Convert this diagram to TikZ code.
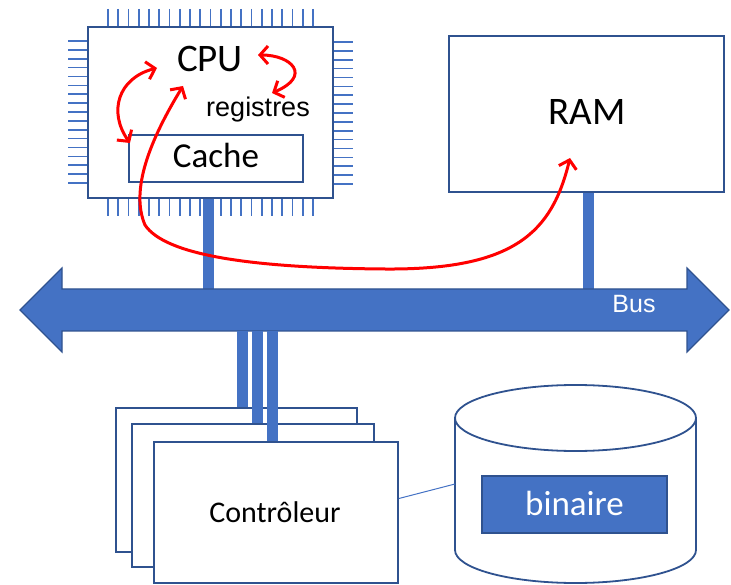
\documentclass[tikz,border=0pt]{standalone}
\usepackage{fontspec}
\setmainfont{Carlito}
\newfontfamily\arial{Liberation Sans}
\usetikzlibrary{arrows.meta,calc}
\definecolor{dkblue}{HTML}{2F528F}
\definecolor{mdblue}{HTML}{4472C4}
\definecolor{rd}{HTML}{FF0000}
\begin{document}
\begin{tikzpicture}[x=1pt,y=-1pt,
 box/.style={draw=dkblue, line width=1.8pt, fill=white, inner sep=0pt},
 pin/.style={draw=mdblue, line width=1.6pt},
 stub/.style={draw=mdblue, line width=11pt},
 txt/.style={inner sep=0pt, anchor=base},
 redarr/.style={draw=rd, line width=3pt, line cap=round,
   {Straight Barb[length=8pt,width=18pt]}-{Straight Barb[length=8pt,width=18pt]}}
]
\useasboundingbox (0,0) rectangle (731,585);

% ---- CPU pins
\foreach \i in {0,...,20} {
  \pgfmathsetmacro\px{108+\i*10.25}
  \draw[pin] (\px,9) -- (\px,28);
  \draw[pin] (\px,197) -- (\px,216);
}
\foreach \i in {0,...,16} {
  \pgfmathsetmacro\py{41+\i*8.875}
  \draw[pin] (68,\py) -- (89,\py);
  \draw[pin] (332,\py+1) -- (353,\py+1);
}

% ---- CPU chip
\node[box, minimum width=245pt, minimum height=171pt] (cpu) at (210.5,112.5) {};
\node[txt, font=\fontsize{39}{39}\selectfont] (cputxt) at (210,72) {CPU};
\node[txt, font=\arial\fontsize{27}{27}\selectfont] (reg) at (258,117) {registres};
\node[box, minimum width=174pt, minimum height=47pt] (cache) at (216,158.5) {};
\node[txt, font=\fontsize{35}{35}\selectfont] (cachetxt) at (216,168) {Cache};

% ---- RAM
\node[box, minimum width=275pt, minimum height=156pt] (ram) at (586.5,114) {};
\node[txt, font=\fontsize{39}{39}\selectfont] (ramtxt) at (587,125) {RAM};

% ---- Bus
\coordinate (bustop) at (0,289);
\coordinate (busbot) at (0,331);
\draw[stub] ([xshift=-2pt]cpu.south) -- ([xshift=-2pt]cpu.south |- bustop);
\draw[stub] ([xshift=1.5pt]ram.south) -- ([xshift=1.5pt]ram.south |- bustop);
\path[fill=mdblue, draw=dkblue, line width=1.2pt]
  (20,310) -- (62,268) -- (62,289) -- (687,289) -- (687,268) -- (729,310)
  -- (687,352) -- (687,331) -- (62,331) -- (62,352) -- cycle;
\node[txt, text=white, font=\arial\fontsize{25}{25}\selectfont] (bus) at (634,313) {Bus};

% ---- Controllers
\coordinate (s1) at (242,331);
\coordinate (s2) at (257.5,331);
\coordinate (s3) at (272,331);
\node[box, minimum width=241pt, minimum height=144pt] (ctrl1) at (236.5,480) {};
\draw[stub] (s1) -- (s1 |- ctrl1.north);
\draw[stub] (s2) -- (257.5,423);
\node[box, minimum width=242pt, minimum height=143pt] (ctrl2) at (253,495.5) {};
\draw[stub] (s3) -- (272,441);
\node[box, minimum width=244pt, minimum height=141pt] (ctrl3) at (276,512.5) {};
\node[txt, font=\fontsize{30}{30}\selectfont] (ctrltxt) at (275,522) {Contrôleur};

% ---- Disk
\fill[white] (455,418) -- (455,550) arc[start angle=180, end angle=360, x radius=120.5pt, y radius=33pt] -- (696,418) -- cycle;
\draw[dkblue, line width=1.8pt] (455,418) -- (455,550) arc[start angle=180, end angle=360, x radius=120.5pt, y radius=33pt] -- (696,418);
\draw[dkblue, line width=1.8pt, fill=white] (575.5,418) ellipse [x radius=120.5pt, y radius=33pt];
\coordinate (diskL) at (455,484);
\node[draw=dkblue, fill=mdblue, line width=1.5pt, minimum width=185pt, minimum height=57pt, inner sep=0pt] (bin) at (574.5,504.5) {};
\node[txt, text=white, font=\fontsize{35}{35}\selectfont] (bintxt) at (574.5,515) {binaire};
\draw[mdblue, line width=1pt] ([yshift=14pt]ctrl3.east) -- (diskL);

% ---- Red arrows
\coordinate (a1) at (130,143);
\coordinate (a2) at (157,68);
\coordinate (a3) at (258,55);
\coordinate (a4) at (272,93);
\coordinate (a5) at (183,86);
\coordinate (a6) at (570,158);
\draw[redarr] (a1) .. controls (108,112) and (118,78) .. (a2);
\draw[redarr] (a3) .. controls (292,55) and (312,76) .. (a4);
\draw[redarr] (a5) .. controls (150,140) and (130,190) .. (145,225)
  .. controls (165,255) and (250,268) .. (385,269)
  .. controls (515,270) and (552,232) .. (a6);
\end{tikzpicture}
\end{document}
